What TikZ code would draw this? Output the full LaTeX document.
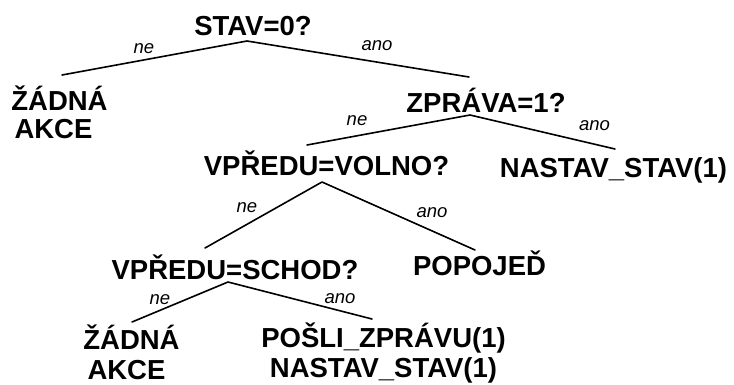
\documentclass[tikz,border=0pt]{standalone}
\usepackage{fontspec}
\setmainfont{Liberation Sans}
\tikzset{
  txt/.style={anchor=base, inner sep=0pt, font=\bfseries\fontsize{27.5}{30}\selectfont},
  lbl/.style={anchor=base, inner sep=0pt, font=\itshape\fontsize{18.5}{20}\selectfont},
  edge/.style={line width=1.6pt, line cap=round, line join=round}
}
\begin{document}
\begin{tikzpicture}[x=1pt,y=-1pt]
\useasboundingbox (0,0) rectangle (734,384);
% nodes
\node[txt] (stav) at (253,35) {STAV=0?};
\node[txt] (zadnaA1) at (59.5,110) {ŽÁDNÁ};
\node[txt] (akceA) at (53.5,138) {AKCE};
\node[txt] (zprava) at (486,112) {ZPRÁVA=1?};
\node[txt] (nastavA) at (613.5,177) {NASTAV\_STAV(1)};
\node[txt] (volno) at (326.5,175) {VPŘEDU=VOLNO?};
\node[txt] (popojed) at (479.5,275) {POPOJEĎ};
\node[txt] (schod) at (235,279) {VPŘEDU=SCHOD?};
\node[txt] (zadnaB1) at (131.5,349) {ŽÁDNÁ};
\node[txt] (akceB) at (126.5,379) {AKCE};
\node[txt] (posli) at (383.5,347) {POŠLI\_ZPRÁVU(1)};
\node[txt] (nastavB) at (383.5,377) {NASTAV\_STAV(1)};
% connector points
\coordinate (a1) at (247,41);
\coordinate (a1l) at (62,75);
\coordinate (a1r) at (469,77);
\coordinate (a2) at (470,115);
\coordinate (a2l) at (307,145);
\coordinate (a2r) at (615,149);
\coordinate (a3) at (322,182);
\coordinate (a3l) at (205,248);
\coordinate (a3r) at (475,250);
\coordinate (a4) at (228,282);
\coordinate (a4l) at (132,322);
\coordinate (a4r) at (372,319);
% connectors
\draw[edge] (a1l) -- (a1) -- (a1r);
\draw[edge] (a2l) -- (a2) -- (a2r);
\draw[edge] (a3l) -- (a3) -- (a3r);
\draw[edge] (a4l) -- (a4) -- (a4r);
% labels
\node[lbl] (l1n) at (144,53) {ne};
\node[lbl] (l1a) at (377,50) {ano};
\node[lbl] (l2n) at (357,125) {ne};
\node[lbl] (l2a) at (594.5,130) {ano};
\node[lbl] (l3n) at (247,212) {ne};
\node[lbl] (l3a) at (432,217) {ano};
\node[lbl] (l4n) at (160,304) {ne};
\node[lbl] (l4a) at (340,303) {ano};
\end{tikzpicture}
\end{document}
